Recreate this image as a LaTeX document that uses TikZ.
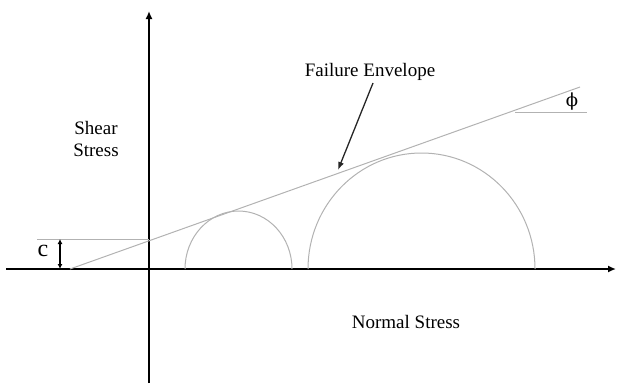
\documentclass[tikz,border=0pt]{standalone}
\usepackage{fontspec}
\setmainfont{Liberation Serif}
\newfontfamily\phifont{DejaVu Serif}
\usetikzlibrary{arrows.meta}
\begin{document}
\begin{tikzpicture}[x=1pt,y=-1pt,
  axis/.style={line width=1.6pt,black,-{Latex[length=8pt,width=7pt]}},
  thin gray/.style={line width=1pt,gray!60},
  lbl/.style={font=\fontsize{19}{22}\selectfont,inner sep=0pt},
  pointer/.style={line width=1.3pt,black!85,-{Latex[length=8pt,width=6pt]}}]
\useasboundingbox (0,0) rectangle (617,383);
% axes
\coordinate (xs) at (6,269);
\coordinate (xe) at (616,269);
\coordinate (ys) at (149,383);
\coordinate (ye) at (149,11);
\draw[axis] (xs) -- (xe);
\draw[axis] (ys) -- (ye);
% envelope
\coordinate (e1) at (70,269);
\coordinate (e2) at (580,87);
\draw[thin gray] (e1) -- (e2);
% circles
\draw[thin gray] (185,269) arc[start angle=180,end angle=360,x radius=53.5,y radius=58];
\draw[thin gray] (308,269) arc[start angle=180,end angle=360,x radius=113.5,y radius=116];
% c
\coordinate (c1) at (37,239);
\coordinate (c2) at (149,239);
\draw[thin gray] (c1) -- (c2);
\coordinate (ca) at (60,239);
\coordinate (cb) at (60,269);
\draw[line width=1.2pt,{Latex[length=5pt,width=5pt]}-{Latex[length=5pt,width=5pt]}] (ca) -- (cb);
\node[font=\fontsize{24}{26}\selectfont,inner sep=0pt] (c) at (43,251) {c};
% phi
\coordinate (p1) at (515,112);
\coordinate (p2) at (587,112);
\draw[thin gray] (p1) -- (p2);
\node[font=\phifont\fontsize{18}{22}\selectfont,inner sep=0pt] (phi) at (572,102) {ϕ};
% labels
\node[lbl,align=center] (shear) at (96,139) {Shear\\Stress};
\node[lbl] (normal) at (406,322) {Normal Stress};
\node[lbl] (fe) at (370,72) {Failure Envelope};
\coordinate (tip) at (338,170);
\draw[pointer] (373,83) -- (tip);
\end{tikzpicture}
\end{document}
